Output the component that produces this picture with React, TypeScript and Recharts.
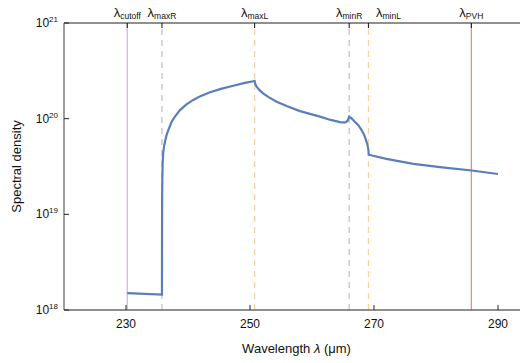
import React from 'react';
import { LineChart, Line, XAxis, YAxis, ReferenceLine, Label } from 'recharts';

const wavelengths = [
  230.2, 235.8, 235.81, 235.83, 235.86, 235.92, 236.0, 236.13, 236.3, 236.56,
  236.9, 237.37, 237.8, 238.71, 239.7, 240.85, 242.0, 243.55, 245.3, 247.3,
  249.0, 250.75, 250.85, 251.07, 251.5, 252.1, 253.0, 254.3, 256.0, 258.06,
  261.3, 263.0, 264.5, 265.3, 265.75, 266.0, 266.5, 266.9, 267.5, 268.0,
  268.4, 268.7, 268.95, 269.1, 269.15, 272.0, 276.35, 281.0, 285.75, 290.0,
];
const density = [
  1.5e18, 1.45e18, 5e18, 1.5e19, 2.3e19, 3.5e19, 4.4e19, 5.1e19, 5.8e19, 6.8e19,
  7.8e19, 9.3e19, 1.03e20, 1.23e20, 1.4e20, 1.57e20, 1.72e20, 1.89e20, 2.05e20, 2.21e20,
  2.35e20, 2.48e20, 2.3e20, 2.16e20, 2.0e20, 1.84e20, 1.68e20, 1.5e20, 1.35e20, 1.2e20,
  1.05e20, 9.7e19, 9.2e19, 9.1e19, 9.5e19, 1.05e20, 9.9e19, 9.3e19, 8.5e19, 7.6e19,
  6.8e19, 6.0e19, 5.3e19, 4.7e19, 4.2e19, 3.8e19, 3.37e19, 3.1e19, 2.87e19, 2.64e19,
];

const xTicks = [230, 250, 270, 290];
const yTicks = [1e18, 1e19, 1e20, 1e21];

const markerNames = ['cutoff', 'maxR', 'maxL', 'minR', 'minL', 'PVH'];
const markerPositions = [230.2, 235.8, 250.75, 266.0, 269.1, 285.7];
const markerColors = ['#dcaee0', '#bdbdbd', '#ffcf9e', '#bdbdbd', '#ffcf9e', '#ee8282'];
const markerDashes = ['', '6 5', '6 5', '6 5', '6 5', ''];

const data = wavelengths.map((wl, i) => ({ wl, d: density[i] }));

const FONT = 'Liberation Sans, Arial, sans-serif';
const AXIS = '#6a6a6a';

// labels that would collide get nudged sideways
const labelShift: Record<string, number> = { minL: 20 };

const BottomTick = (props: any) => {
  const { x, y, payload } = props;
  return (
    <g>
      <line x1={x} x2={x} y1={y} y2={y - 5} stroke="#222" strokeWidth={1} />
      <text x={x} y={y + 18} textAnchor="middle" fontSize={12} fontFamily={FONT} fill="#111">
        {payload.value}
      </text>
    </g>
  );
};

const TopTick = (props: any) => {
  const { x, y, index } = props;
  const name = markerNames[index];
  const tx = x + (labelShift[name] || 0);
  return (
    <g>
      <line x1={x} x2={x} y1={y} y2={y + 5} stroke="#111" strokeWidth={1} />
      <text x={tx} y={y - 6} textAnchor="middle" fontFamily={FONT} fill="#111" fontSize={13}>
        λ
        <tspan fontSize={8.5} dy={2}>{name}</tspan>
      </text>
    </g>
  );
};

const LeftTick = (props: any) => {
  const { x, y, payload } = props;
  const exp = Math.round(Math.log10(payload.value));
  return (
    <g>
      <line x1={x} x2={x + 5} y1={y} y2={y} stroke="#222" strokeWidth={1} />
      <text x={x - 6} y={y + 4} textAnchor="end" fontSize={12} fontFamily={FONT} fill="#111">
        10
        <tspan fontSize={8} dy={-5}>{exp}</tspan>
      </text>
    </g>
  );
};

export default function App() {
  return (
    <div style={{ position: 'absolute', left: 0, top: 0, width: 520, height: 363, overflow: 'hidden', background: '#fff' }}>
      <LineChart width={530} height={363} data={data} margin={{ top: 22, right: 1, bottom: 52, left: 63 }}>
        <XAxis
          xAxisId="bottom"
          dataKey="wl"
          type="number"
          domain={[220, 295]}
          ticks={xTicks}
          height={1}
          tickSize={0}
          tickMargin={0}
          tick={<BottomTick />}
          tickLine={false}
          axisLine={{ stroke: AXIS, strokeWidth: 1.3 }}
          interval={0}
          allowDataOverflow
        >
          <Label
            content={(p: any) => {
              const vb = p.viewBox;
              return (
                <text x={vb.x + vb.width / 2} y={vb.y + 43} textAnchor="middle" fontSize={13} fontFamily={FONT} fill="#111">
                  Wavelength <tspan fontStyle="italic">λ</tspan> (μm)
                </text>
              );
            }}
          />
        </XAxis>
        <XAxis
          xAxisId="top"
          orientation="top"
          dataKey="wl"
          type="number"
          domain={[220, 295]}
          ticks={markerPositions}
          height={1}
          tickSize={0}
          tickMargin={0}
          tick={<TopTick />}
          tickLine={false}
          axisLine={{ stroke: AXIS, strokeWidth: 1.3 }}
          interval={0}
          allowDataOverflow
        />
        <YAxis
          scale="log"
          domain={[1e18, 1e21]}
          ticks={yTicks}
          width={1}
          tickSize={0}
          tickMargin={0}
          tick={<LeftTick />}
          tickLine={false}
          axisLine={{ stroke: AXIS, strokeWidth: 1.3 }}
          interval={0}
          allowDataOverflow
        >
          <Label
            content={(p: any) => {
              const vb = p.viewBox;
              const cy = vb.y + vb.height / 2;
              return (
                <text
                  x={20.5}
                  y={cy}
                  transform={`rotate(-90, 20.5, ${cy})`}
                  textAnchor="middle"
                  fontSize={13}
                  fontFamily={FONT}
                  fill="#111"
                >
                  Spectral density
                </text>
              );
            }}
          />
        </YAxis>
        {markerPositions.map((pos, i) => (
          <ReferenceLine
            key={markerNames[i]}
            xAxisId="bottom"
            x={pos}
            stroke={markerColors[i]}
            strokeWidth={1.2}
            strokeDasharray={markerDashes[i] || undefined}
          />
        ))}
        <Line
          xAxisId="bottom"
          dataKey="d"
          type="linear"
          stroke="#5b7dbb"
          strokeWidth={2.2}
          dot={false}
          isAnimationActive={false}
        />
      </LineChart>
    </div>
  );
}
